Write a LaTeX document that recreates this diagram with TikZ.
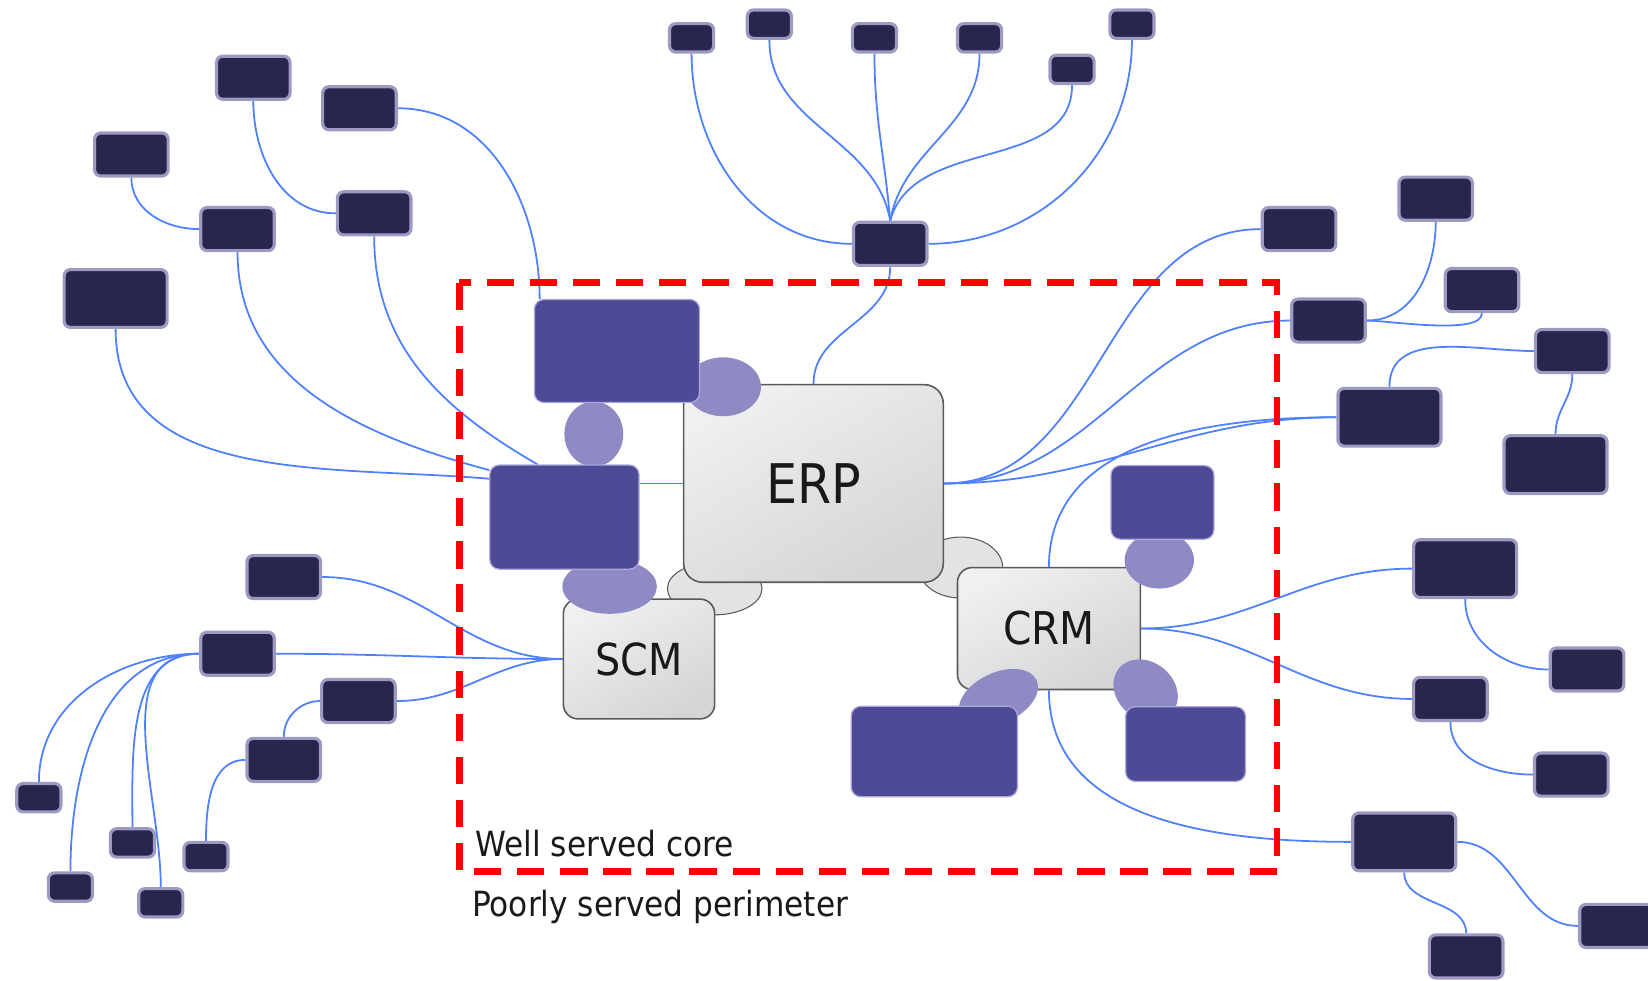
\documentclass[tikz,border=0pt]{standalone}
\usepackage{fontspec}
\setmainfont{DejaVu Sans}[FakeStretch=0.9]
\usetikzlibrary{backgrounds}

\definecolor{satfill}{HTML}{28264E}
\definecolor{satedge}{HTML}{9C9AC2}
\definecolor{modfill}{HTML}{4E4A96}
\definecolor{modedge}{HTML}{AAA8DC}
\definecolor{blobfill}{HTML}{8E8AC4}
\definecolor{coreedge}{HTML}{5A5A5A}
\definecolor{linkblue}{HTML}{4F80FF}

\tikzset{
  sat/.style={draw=satedge, fill=satfill, line width=3pt, rounded corners=6pt, inner sep=0pt},
  sattiny/.style={sat, minimum width=42, minimum height=27},
  satsmall/.style={sat, minimum width=70, minimum height=41},
  satlarge/.style={sat, minimum width=98, minimum height=55},
  modbox/.style={draw=modedge, fill=modfill, line width=1.2pt, rounded corners=9pt, inner sep=0pt},
  corebox/.style={draw=coreedge, line width=1.5pt, rounded corners=18pt, inner sep=0pt,
    top color=gray!12, bottom color=gray!33, shading angle=30, text=black!90},
  blob/.style={fill=blobfill},
  greyblob/.style={draw=coreedge, line width=1pt, fill=gray!22},
  link/.style={draw=linkblue, line width=1.7pt},
  corebound/.style={draw=red, line width=6.3pt, dash pattern=on 26pt off 15pt}
}

\begin{document}
\begin{tikzpicture}[x=1pt,y=1pt]
\useasboundingbox (0,0) rectangle (1568,-933);

% core systems
\node[corebox, minimum width=247, minimum height=188, font=\fontsize{52}{60}\selectfont] (erp) at (774,-460) {ERP};
\node[corebox, minimum width=144, minimum height=114, rounded corners=14pt, font=\fontsize{42}{50}\selectfont] (scm) at (608,-627) {SCM};
\node[corebox, minimum width=174, minimum height=116, rounded corners=14pt, font=\fontsize{43}{50}\selectfont] (crm) at (998,-598) {CRM};

% joints between the blocks
\fill[blob] (565,-413) ellipse [x radius=28, y radius=31];
\fill[blob] (688,-368) ellipse [x radius=36, y radius=28];
\fill[blob] (580,-558) ellipse [x radius=45, y radius=26];
\fill[blob] (1103,-533) ellipse [x radius=33, y radius=27];
\fill[blob, rotate around={25:(950,-664)}] (950,-664) ellipse [x radius=40, y radius=24];
\fill[blob, rotate around={-40:(1090,-657)}] (1090,-657) ellipse [x radius=33, y radius=27];

% modules attached to the core
\node[modbox, minimum width=157, minimum height=98] (p1) at (587,-334) {};
\node[modbox, minimum width=142, minimum height=99] (p2) at (537,-492) {};
\node[modbox, minimum width=98, minimum height=70] (p3) at (1106,-478) {};
\node[modbox, minimum width=158, minimum height=86] (p4) at (889,-715) {};
\node[modbox, minimum width=114, minimum height=71] (p5) at (1128,-708) {};

% perimeter systems
\foreach \n/\x/\y in {t1/658/36, t2/732/23, t3/832/36, t4/932/36, t5/1020/66, t6/1077/23,
                      l5/37/759, l6/126/802, l7/67/844, l8/196/815, l9/153/859}
  \node[sattiny] (\n) at (\x,-\y) {};
\foreach \n/\x/\y in {a1/241/74, a2/342/103, a3/125/147, a4/226/218, a5/356/203, hub/847/232,
                      r1/1236/218, r2/1366/189, r3/1264/305, r4/1410/276, r5/1496/334,
                      s2/1510/637, s3/1380/665, s4/1495/737, s6/1395/910, s7/1538/881,
                      l1/270/549, l2/226/622, l3/341/667, l4/270/723}
  \node[satsmall] (\n) at (\x,-\y) {};
\foreach \n/\x/\y in {a6/110/284, r6/1322/397, r7/1480/442, s1/1394/541, s5/1336/801}
  \node[satlarge] (\n) at (\x,-\y) {};

\begin{scope}[on background layer]
  % links
  \draw[link] (a3.south) to[out=-90,in=180] (a4.west);
  \draw[link] (a1.south) to[out=-90,in=180] (a5.west);
  \draw[link] (a2.east) to[out=0,in=90] (p1.146);
  \draw[link] (a6.south) to[out=-90,in=175] (p2.153);
  \draw[link] (a4.south) to[out=-90,in=165] (p2.148);
  \draw[link] (a5.south) to[out=-90,in=150] (p2.117);
  \draw[link] (erp.west) -- (erp.west -| p2.east);

  \draw[link] (t1.south) to[out=-90,in=180] (hub.west);
  \draw[link] (t2.south) to[out=-90,in=100] (hub.north);
  \draw[link] (t3.south) to[out=-90,in=95] (hub.north);
  \draw[link] (t4.south) to[out=-90,in=80] (hub.north);
  \draw[link] (t5.south) to[out=-90,in=75] (hub.north);
  \draw[link] (t6.south) to[out=-90,in=0] (hub.east);
  \draw[link] (hub.south) to[out=-90,in=90] (erp.north);

  \draw[link] (r2.south) to[out=-90,in=0] (r3.east);
  \draw[link] (r3.east) to[out=0,in=-90,looseness=0.5] (r4.south);
  \draw[link] (r5.west) to[out=180,in=90] (r6.north);
  \draw[link] (r5.south) to[out=-90,in=90] (r7.north);
  \draw[link] (erp.east) to[out=0,in=180] (r1.west);
  \draw[link] (erp.east) to[out=0,in=180] (r3.west);
  \draw[link] (erp.east) to[out=0,in=180] (r6.west);
  \draw[link] (crm.north) to[out=90,in=180] (r6.west);

  \draw[link] (crm.east) to[out=0,in=180] (s1.west);
  \draw[link] (crm.east) to[out=0,in=180] (s3.west);
  \draw[link] (s1.south) to[out=-90,in=180] (s2.west);
  \draw[link] (s3.south) to[out=-90,in=180] (s4.west);
  \draw[link] (crm.south) to[out=-90,in=180] (s5.west);
  \draw[link] (s5.south) to[out=-90,in=90] (s6.north);
  \draw[link] (s5.east) to[out=0,in=180] (s7.west);

  \foreach \n in {l5,l7,l6,l9}
    \draw[link] (l2.west) to[out=180,in=90] (\n.north);
  \draw[link] (l2.east) to[out=0,in=180] (scm.west);
  \draw[link] (l1.east) to[out=0,in=180] (scm.west);
  \draw[link] (l3.east) to[out=0,in=180] (scm.west);
  \draw[link] (l4.north) to[out=90,in=180] (l3.west);
  \draw[link] (l8.north) to[out=90,in=180] (l4.west);

  % grey joints behind the core
  \draw[greyblob] (680,-560) ellipse [x radius=45, y radius=25];
  \draw[greyblob] (914,-540) ellipse [x radius=40, y radius=29];
\end{scope}

% boundary of the core
\draw[corebound] (437,-269) rectangle (1215,-829);
\node[anchor=base west, inner sep=0pt, font=\fontsize{33}{40}\selectfont, text=black!90] (wellcore) at (452,-815) {Well served core};
\node[anchor=base west, inner sep=0pt, font=\fontsize{33}{40}\selectfont, text=black!90] (poorperim) at (449,-872) {Poorly served perimeter};
\end{tikzpicture}
\end{document}
